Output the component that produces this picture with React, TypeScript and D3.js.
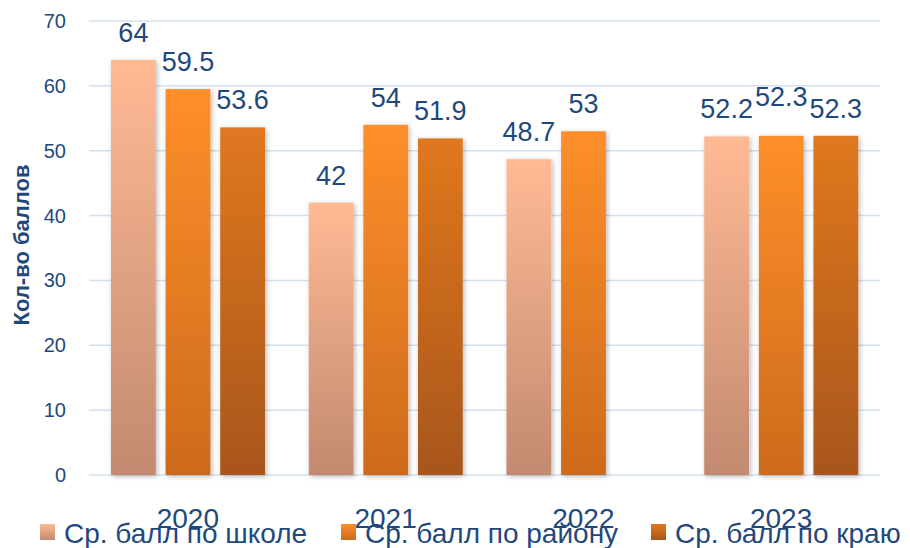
import React from "react";
import * as d3 from "d3";

const years = ["2020", "2021", "2022", "2023"];
const seriesNames = ["Ср. балл по школе", "Ср. балл по району", "Ср. балл по краю"];
const schoolValues: (number | null)[] = [64, 42, 48.7, 52.2];
const districtValues: (number | null)[] = [59.5, 54, 53, 52.3];
const regionValues: (number | null)[] = [53.6, 51.9, null, 52.3];
const yTicks = [0, 10, 20, 30, 40, 50, 60, 70];
const yTitle = "Кол-во баллов";

const W = 910;
const H = 548;
const plotLeft = 89;
const plotRight = 880;
const plotTop = 21;
const plotBottom = 475;
const textColor = "#1F497D";
const font = "'Liberation Sans', Arial, sans-serif";

const gradients = [
  { id: "g0", top: "#FFBA94", bottom: "#C28A70" },
  { id: "g1", top: "#FE8F2A", bottom: "#CD6A1C" },
  { id: "g2", top: "#E07820", bottom: "#A8561A" },
];

export default function App() {
  const allSeries = [schoolValues, districtValues, regionValues];
  const x0 = d3.scaleBand<string>().domain(years).range([plotLeft, plotRight]).padding(0);
  const x1 = d3
    .scaleBand<number>()
    .domain([0, 1, 2])
    .range([22, 176])
    .paddingInner(0.18)
    .paddingOuter(0);
  const y = d3.scaleLinear().domain([0, 70]).range([plotBottom, plotTop]);

  // slight lift for overlapping labels (2023, district)
  const labelLift = (s: number, i: number) => (s === 1 && i === 3 ? 12 : 0);

  const legendX = [40, 341, 651];

  return (
    <svg
      width={W}
      height={H}
      style={{ position: "absolute", left: 0, top: 0, background: "#fff" }}
      fontFamily={font}
    >
      <defs>
        {gradients.map((g) => (
          <linearGradient key={g.id} id={g.id} x1="0" y1="0" x2="0" y2="1">
            <stop offset="0" stopColor={g.top} />
            <stop offset="1" stopColor={g.bottom} />
          </linearGradient>
        ))}
        <filter id="shadow" x="-30%" y="-10%" width="160%" height="120%">
          <feDropShadow dx="1.5" dy="1.5" stdDeviation="2.5" floodColor="#000" floodOpacity="0.28" />
        </filter>
      </defs>

      {yTicks.map((t) => (
        <g key={t}>
          <line
            x1={plotLeft}
            x2={plotRight}
            y1={y(t)}
            y2={y(t)}
            stroke="#D5E0EF"
            strokeWidth={1.5}
          />
          <text
            x={66}
            y={y(t)}
            dy="0.35em"
            textAnchor="end"
            fontSize={20}
            fill={textColor}
          >
            {t}
          </text>
        </g>
      ))}

      <text
        transform={`translate(29, 245) rotate(-90)`}
        textAnchor="middle"
        fontSize={22}
        fontWeight="bold"
        fill={textColor}
      >
        {yTitle}
      </text>

      {years.map((yr, i) => (
        <g key={yr}>
          {allSeries.map((vals, s) => {
            const v = vals[i];
            if (v == null) return null;
            const bx = (x0(yr) as number) + (x1(s) as number);
            const bw = x1.bandwidth();
            return (
              <g key={s}>
                <rect
                  x={bx}
                  y={y(v)}
                  width={bw}
                  height={plotBottom - y(v)}
                  fill={`url(#${gradients[s].id})`}
                  filter="url(#shadow)"
                />
              </g>
            );
          })}
        </g>
      ))}

      {years.map((yr, i) => (
        <g key={"l" + yr}>
          {allSeries.map((vals, s) => {
            const v = vals[i];
            if (v == null) return null;
            const cx = (x0(yr) as number) + (x1(s) as number) + x1.bandwidth() / 2;
            return (
              <text
                key={s}
                x={cx}
                y={y(v) - 18 - labelLift(s, i)}
                textAnchor="middle"
                fontSize={27}
                fill={textColor}
              >
                {String(v)}
              </text>
            );
          })}
          <text
            x={(x0(yr) as number) + x0.bandwidth() / 2}
            y={528}
            textAnchor="middle"
            fontSize={28}
            fill={textColor}
          >
            {yr}
          </text>
        </g>
      ))}

      {seriesNames.map((name, s) => (
        <g key={name}>
          <rect
            x={legendX[s]}
            y={524}
            width={15}
            height={16}
            fill={`url(#${gradients[s].id})`}
          />
          <text x={legendX[s] + 24} y={543} fontSize={28} fill={textColor}>
            {name}
          </text>
        </g>
      ))}
    </svg>
  );
}
